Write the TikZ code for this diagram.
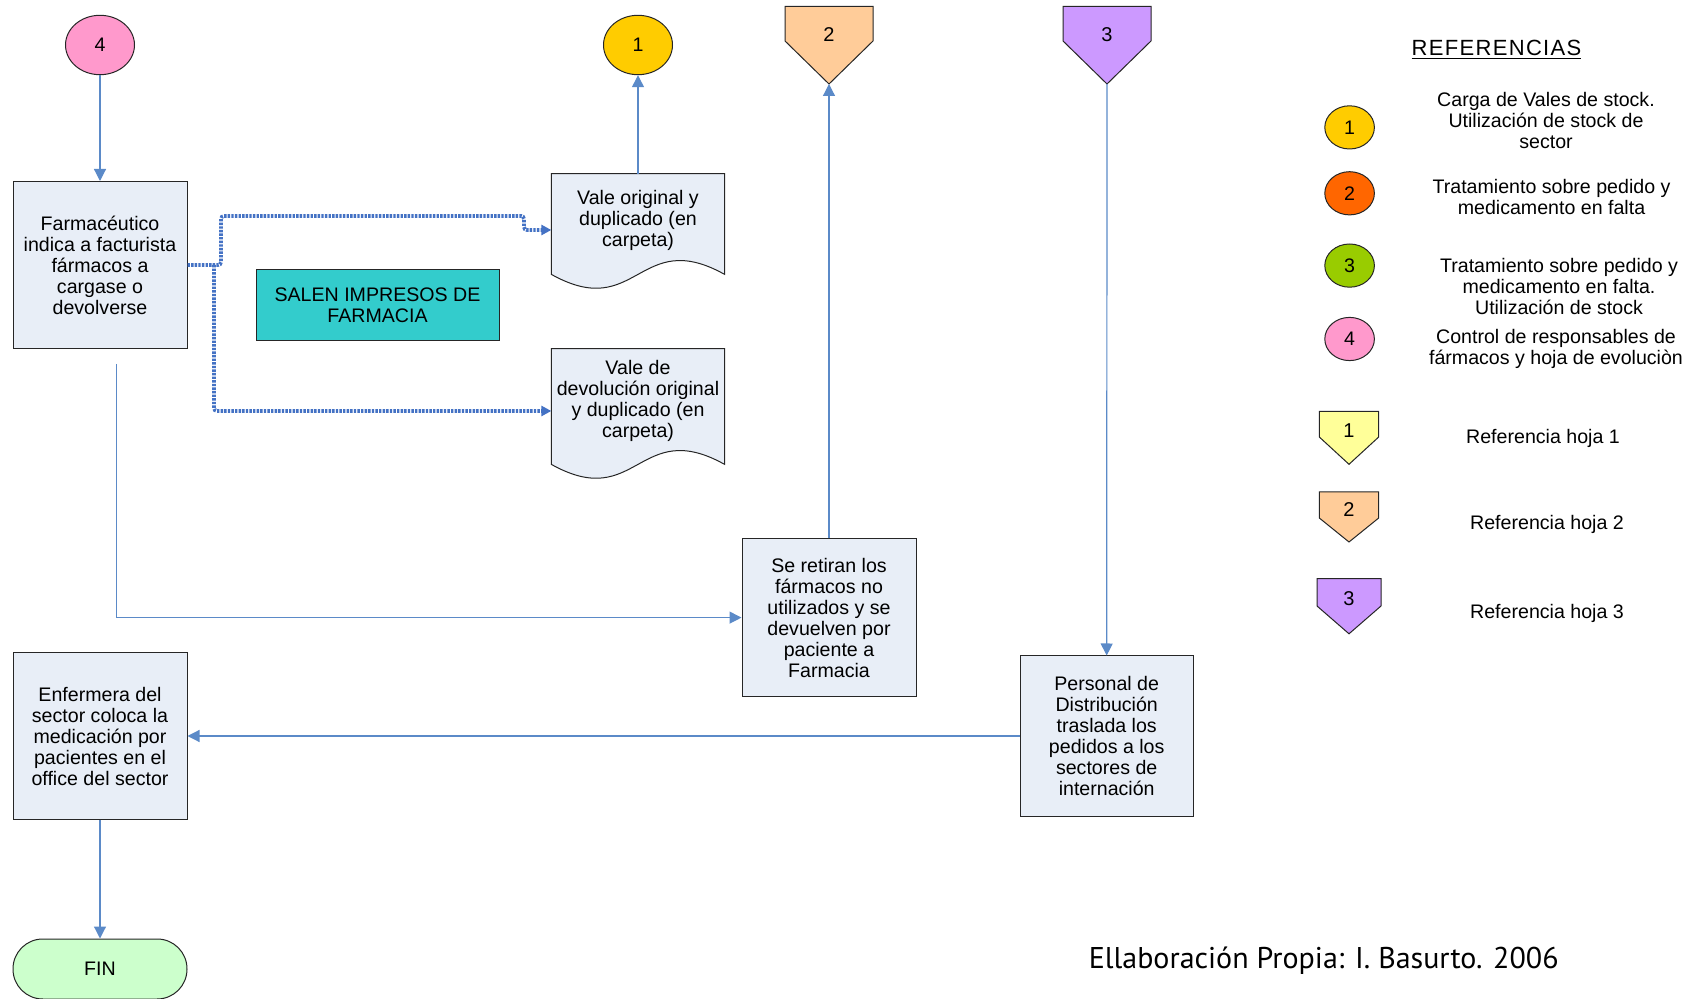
\documentclass[tikz,border=0pt]{standalone}
\usepackage{fontspec}
\setmainfont{Liberation Sans}
\newfontfamily\footfont{PT Sans}
\usetikzlibrary{arrows.meta,shapes.geometric}

\definecolor{boxfill}{HTML}{E8EEF7}
\definecolor{flowblue}{HTML}{5B8AC8}
\definecolor{dotblue}{HTML}{4472C4}
\definecolor{tealbox}{HTML}{33CCCC}
\definecolor{sheetone}{HTML}{FFFF99}
\definecolor{sheettwo}{HTML}{FFCC99}
\definecolor{sheetthree}{HTML}{CC99FF}
\definecolor{connone}{HTML}{FFCC00}
\definecolor{conntwo}{HTML}{FF6600}
\definecolor{connthree}{HTML}{99CC00}
\definecolor{connfour}{HTML}{FF99CC}
\definecolor{finfill}{HTML}{CCFFCC}

% off-page reference: name, centre x, top, shoulder, tip, half width, fill, label
\newcommand\offpagesym[8]{%
  \draw[symline, fill=#7] (#2-#6,#3) -- (#2+#6,#3) -- (#2+#6,#4) -- (#2,#5) -- (#2-#6,#4) -- cycle;
  \coordinate (#1tip) at (#2,#5);
  \node[numtext] (#1) at (#2,{#3+0.36*(#5-#3)}) {#8};
}

\begin{document}
\begin{tikzpicture}[x=0.5pt,y=-0.5pt,
  every node/.style={font=\fontsize{9.8}{10.5}\selectfont, text=black},
  symline/.style={draw=black!85, line width=0.5pt},
  procbox/.style={symline, fill=boxfill, align=center, inner sep=2pt},
  conn/.style={symline, ellipse, inner sep=0pt},
  numtext/.style={font=\fontsize{10}{12}\selectfont},
  plain/.style={align=center, inner sep=0pt},
  docbox/.style={inner sep=0pt},
  flow/.style={draw=flowblue, line width=0.6pt, -{Triangle[length=6pt,width=6pt]}},
  dotflow/.style={draw=dotblue, line width=1.9pt, dash pattern=on 1.2pt off 0.6pt,
    rounded corners=1.5pt, -{Triangle[length=5pt,width=5pt]}},
]
\useasboundingbox (0,0) rectangle (1693,999);
\clip (0,0) rectangle (1693,999);

% ---- main flow ----
\node[conn, fill=connfour, minimum width=34.5pt, minimum height=29.7pt] (c4) at (100,45) {4};
\node[procbox, minimum width=87pt, minimum height=83.5pt] (farm) at (100,265)
  {Farmacéutico\\indica a facturista\\fármacos a\\cargase o\\devolverse};

\node[conn, fill=connone, minimum width=34.5pt, minimum height=29.7pt] (c1) at (638,45) {1};

% documents with a wavy lower edge
\node[docbox, minimum width=86.25pt, minimum height=50pt] (doc1) at (638,224) {};
\draw[symline, fill=boxfill] (doc1.south west) -- (doc1.north west) -- (doc1.north east) -- (doc1.south east)
  .. controls +(-86,-48) and +(86,48) .. (doc1.south west) -- cycle;
\node[plain] (doc1text) at (638,220) {Vale original y\\duplicado (en\\carpeta)};

\node[docbox, minimum width=86.25pt, minimum height=57.5pt] (doc2) at (638,406.5) {};
\draw[symline, fill=boxfill] (doc2.south west) -- (doc2.north west) -- (doc2.north east) -- (doc2.south east)
  .. controls +(-86,-48) and +(86,48) .. (doc2.south west) -- cycle;
\node[plain] (doc2text) at (638,401) {Vale de\\devolución original\\y duplicado (en\\carpeta)};

\node[symline, fill=tealbox, align=center, minimum width=121.5pt, minimum height=35.5pt] (salen)
  at (377.5,305.5) {SALEN IMPRESOS DE\\FARMACIA};

\offpagesym{op2}{829}{6.5}{41}{84}{44}{sheettwo}{2}
\offpagesym{op3}{1107}{6.5}{41}{84}{44}{sheetthree}{3}

\node[procbox, minimum width=87pt, minimum height=78.8pt] (retiran) at (829,617.6)
  {Se retiran los\\fármacos no\\utilizados y se\\devuelven por\\paciente a\\Farmacia};
\node[procbox, minimum width=86.5pt, minimum height=80pt] (personal) at (1106.7,736)
  {Personal de\\Distribución\\traslada los\\pedidos a los\\sectores de\\internación};
\node[procbox, minimum width=87pt, minimum height=83pt] (enf) at (100,736)
  {Enfermera del\\sector coloca la\\medicación por\\pacientes en el\\office del sector};
\node[symline, fill=finfill, rounded corners=14.9pt, minimum width=87pt, minimum height=30pt] (fin)
  at (100,969) {FIN};

% ---- connectors ----
\draw[flow] (c4) -- (farm);
\draw[flow] (doc1) -- (c1);
\draw[flow] (retiran.north) -- (op2tip);
\draw[flow] (op3tip) -- (personal.north);
\draw[flow] (personal.west) -- (enf.east);
\draw[flow] (enf) -- (fin);
\coordinate (retstart) at (116.6,364);
\draw[flow] (retstart) |- (retiran.west);

\coordinate (fork) at (214,265);
\draw[dotflow] (farm.east) -| (221,216) -| (524,230) -- ([yshift=-3pt]doc1.west);
\draw[dotflow] (fork) |- ([yshift=-2.25pt]doc2.west);

% ---- legend ----
\node[font=\fontsize{11}{13}\selectfont\addfontfeature{LetterSpace=6}] (reftitle) at (1496.5,49.7)
  {\underline{REFERENCIAS}};

\node[conn, fill=connone, minimum width=24.8pt, minimum height=21.6pt] (l1) at (1349.6,127.4) {1};
\node[conn, fill=conntwo, minimum width=24.8pt, minimum height=21.6pt] (l2) at (1349.6,193.3) {2};
\node[conn, fill=connthree, minimum width=24.8pt, minimum height=21.6pt] (l3) at (1349.6,265.6) {3};
\node[conn, fill=connfour, minimum width=24.8pt, minimum height=21.6pt] (l4) at (1349.6,339) {4};

\node[plain] (t1) at (1546,121) {Carga de Vales de stock.\\Utilización de stock de\\sector};
\node[plain] (t2) at (1551.5,197) {Tratamiento sobre pedido y\\medicamento en falta};
\node[plain] (t3) at (1559,287) {Tratamiento sobre pedido y\\medicamento en falta.\\Utilización de stock};
\node[plain] (t4) at (1556,349) {Control de responsables de\\fármacos y hoja de evoluciòn};

\offpagesym{s1}{1349}{411.4}{437}{464.3}{29.7}{sheetone}{1}
\offpagesym{s2}{1349}{492}{518}{542}{29.7}{sheettwo}{2}
\offpagesym{s3}{1349}{578.7}{606}{633.8}{32}{sheetthree}{3}

\node[plain] (h1) at (1543,438) {Referencia hoja 1};
\node[plain] (h2) at (1547,524.6) {Referencia hoja 2};
\node[plain] (h3) at (1547,613) {Referencia hoja 3};

\node[font=\footfont\fontsize{15}{17}\selectfont] (credit) at (1323.7,961)
  {Ellaboración Propia: I. Basurto. 2006};
\end{tikzpicture}
\end{document}
